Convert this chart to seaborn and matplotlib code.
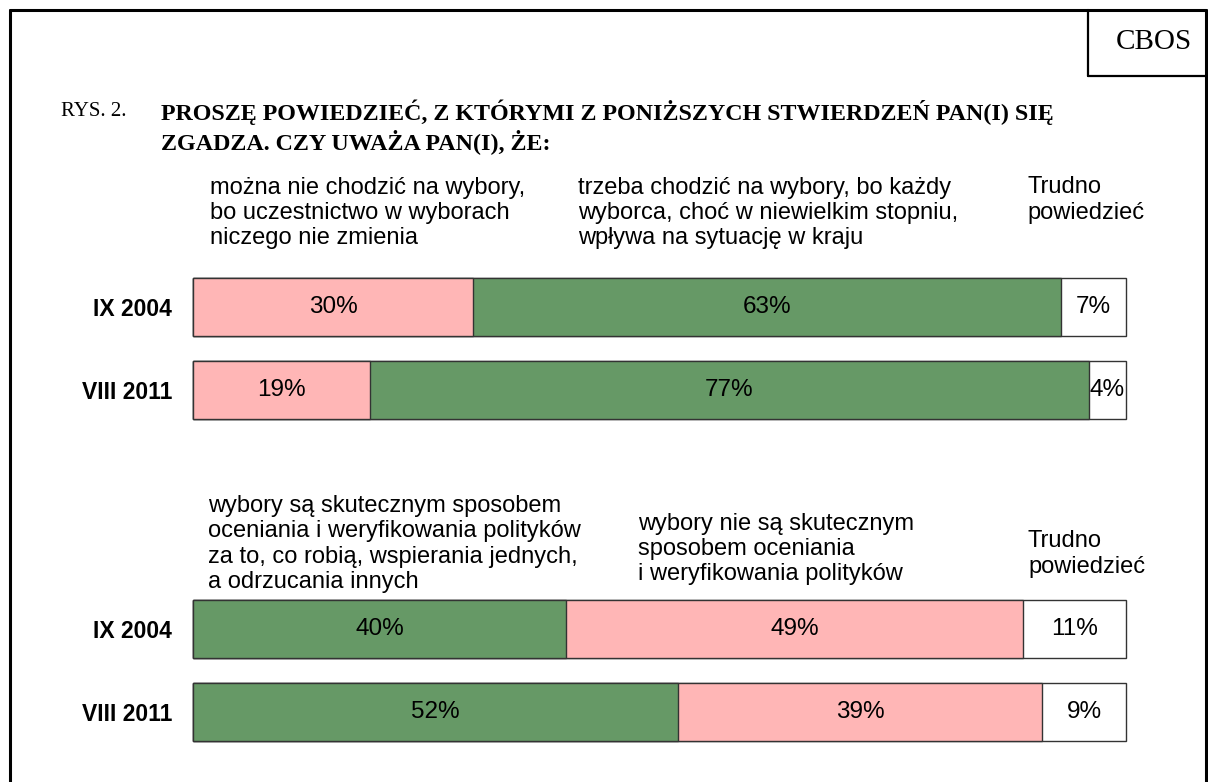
import numpy as np
import pandas as pd
import seaborn as sns
import matplotlib.pyplot as plt
from matplotlib.lines import Line2D

# Data
years = ['IX 2004', 'VIII 2011']

q1_nie = [30, 19]      # można nie chodzić na wybory
q1_tak = [63, 77]      # trzeba chodzić na wybory
q1_trudno = [7, 4]

q2_tak = [40, 52]      # wybory są skutecznym sposobem
q2_nie = [49, 39]      # wybory nie są skutecznym sposobem
q2_trudno = [11, 9]

q1_headers = ['można nie chodzić na wybory,\nbo uczestnictwo w wyborach\nniczego nie zmienia',
              'trzeba chodzić na wybory, bo każdy\nwyborca, choć w niewielkim stopniu,\nwpływa na sytuację w kraju',
              'Trudno\npowiedzieć']
q2_headers = ['wybory są skutecznym sposobem\noceniania i weryfikowania polityków\nza to, co robią, wspierania jednych,\na odrzucania innych',
              'wybory nie są skutecznym\nsposobem oceniania\ni weryfikowania polityków',
              'Trudno\npowiedzieć']

title_line1 = 'PROSZĘ POWIEDZIEĆ, Z KTÓRYMI Z PONIŻSZYCH STWIERDZEŃ PAN(I) SIĘ'
title_line2 = 'ZGADZA. CZY UWAŻA PAN(I), ŻE:'

PINK = '#FFB6B6'
GREEN = '#669966'
WHITE = '#FFFFFF'
EDGE = '#333333'

sns.set_theme(style='white')
plt.rcParams['font.family'] = ['Liberation Sans', 'DejaVu Sans']
plt.rcParams['text.color'] = 'black'
plt.rcParams['ytick.color'] = 'black'
plt.rcParams['ytick.labelcolor'] = 'black'

W, H = 1208, 782
fig = plt.figure(figsize=(W / 100, H / 100), dpi=100)


def px(x, y):
    # pixel position -> figure fraction
    return x / W, 1 - y / H


def stacked_group(ax, segments):
    # draw cumulative bars from the longest down, so each segment shows its own colour
    vals = np.array([s[0] for s in segments], dtype=float)
    cum = np.cumsum(vals, axis=0)
    for k in range(len(segments) - 1, -1, -1):
        df = pd.DataFrame({'rok': years, 'wartosc': cum[k]})
        sns.barplot(data=df, x='wartosc', y='rok', orient='h', color=segments[k][1],
                    saturation=1, edgecolor=EDGE, linewidth=1, width=0.7, ax=ax)
    for p in ax.patches:
        p.set_clip_on(False)
    starts = cum - vals
    for k in range(len(segments)):
        for i in range(len(years)):
            ax.text(starts[k, i] + vals[k, i] / 2, i, f'{int(vals[k, i])}%',
                    ha='center', va='center', fontsize=17.5, color='black')
    ax.set_xlim(0, 100)
    ax.set_ylim(1.5, -0.5)
    ax.set_xlabel('')
    ax.set_ylabel('')
    ax.set_xticks([])
    ax.tick_params(axis='y', length=0, pad=15)
    for lab in ax.get_yticklabels():
        lab.set_fontweight('bold')
        lab.set_fontsize(16.5)
        lab.set_color('black')
    for sp in ax.spines.values():
        sp.set_visible(False)


# bar area: x 193..1126 px, rows 83 px apart
x0, x1 = 193, 1126
ax1 = fig.add_axes([x0 / W, 1 - 431.5 / H, (x1 - x0) / W, 166 / H])
stacked_group(ax1, [(q1_nie, PINK), (q1_tak, GREEN), (q1_trudno, WHITE)])

ax2 = fig.add_axes([x0 / W, 1 - 753.5 / H, (x1 - x0) / W, 166 / H])
stacked_group(ax2, [(q2_tak, GREEN), (q2_nie, PINK), (q2_trudno, WHITE)])

# column headers
hdr_kw = dict(fontsize=17, va='center', ha='left', linespacing=1.18)
for txt, xp, yp in zip(q1_headers, [210, 578, 1027], [213, 213, 200]):
    fig.text(*px(xp, yp), txt, **hdr_kw)
for txt, xp, yp in zip(q2_headers, [208, 638, 1028], [544, 549, 554]):
    fig.text(*px(xp, yp), txt, **hdr_kw)

# title
serif = ['Liberation Serif', 'DejaVu Serif']
fig.text(*px(61, 112), 'RYS. 2.', family=serif, fontsize=15, va='center', ha='left')
fig.text(*px(161, 112), title_line1, family=serif, fontsize=17.3, fontweight='bold',
         va='center', ha='left')
fig.text(*px(161, 142), title_line2, family=serif, fontsize=17.3, fontweight='bold',
         va='center', ha='left')

# frame and CBOS box
lw = 2.2
fig.add_artist(Line2D([10 / W, 10 / W], [0, 1 - 10 / H], transform=fig.transFigure, color='black', lw=lw))
fig.add_artist(Line2D([10 / W, 1206 / W], [1 - 10 / H, 1 - 10 / H], transform=fig.transFigure, color='black', lw=lw))
fig.add_artist(Line2D([1206 / W, 1206 / W], [0, 1 - 10 / H], transform=fig.transFigure, color='black', lw=lw))
fig.add_artist(Line2D([1088 / W, 1088 / W], [1 - 10 / H, 1 - 76 / H], transform=fig.transFigure, color='black', lw=1.6))
fig.add_artist(Line2D([1088 / W, 1206 / W], [1 - 76 / H, 1 - 76 / H], transform=fig.transFigure, color='black', lw=1.6))
fig.text(*px(1154, 42), 'CBOS', family=serif, fontsize=21, va='center', ha='center')

fig.savefig('out.png', dpi=100, facecolor='white')
